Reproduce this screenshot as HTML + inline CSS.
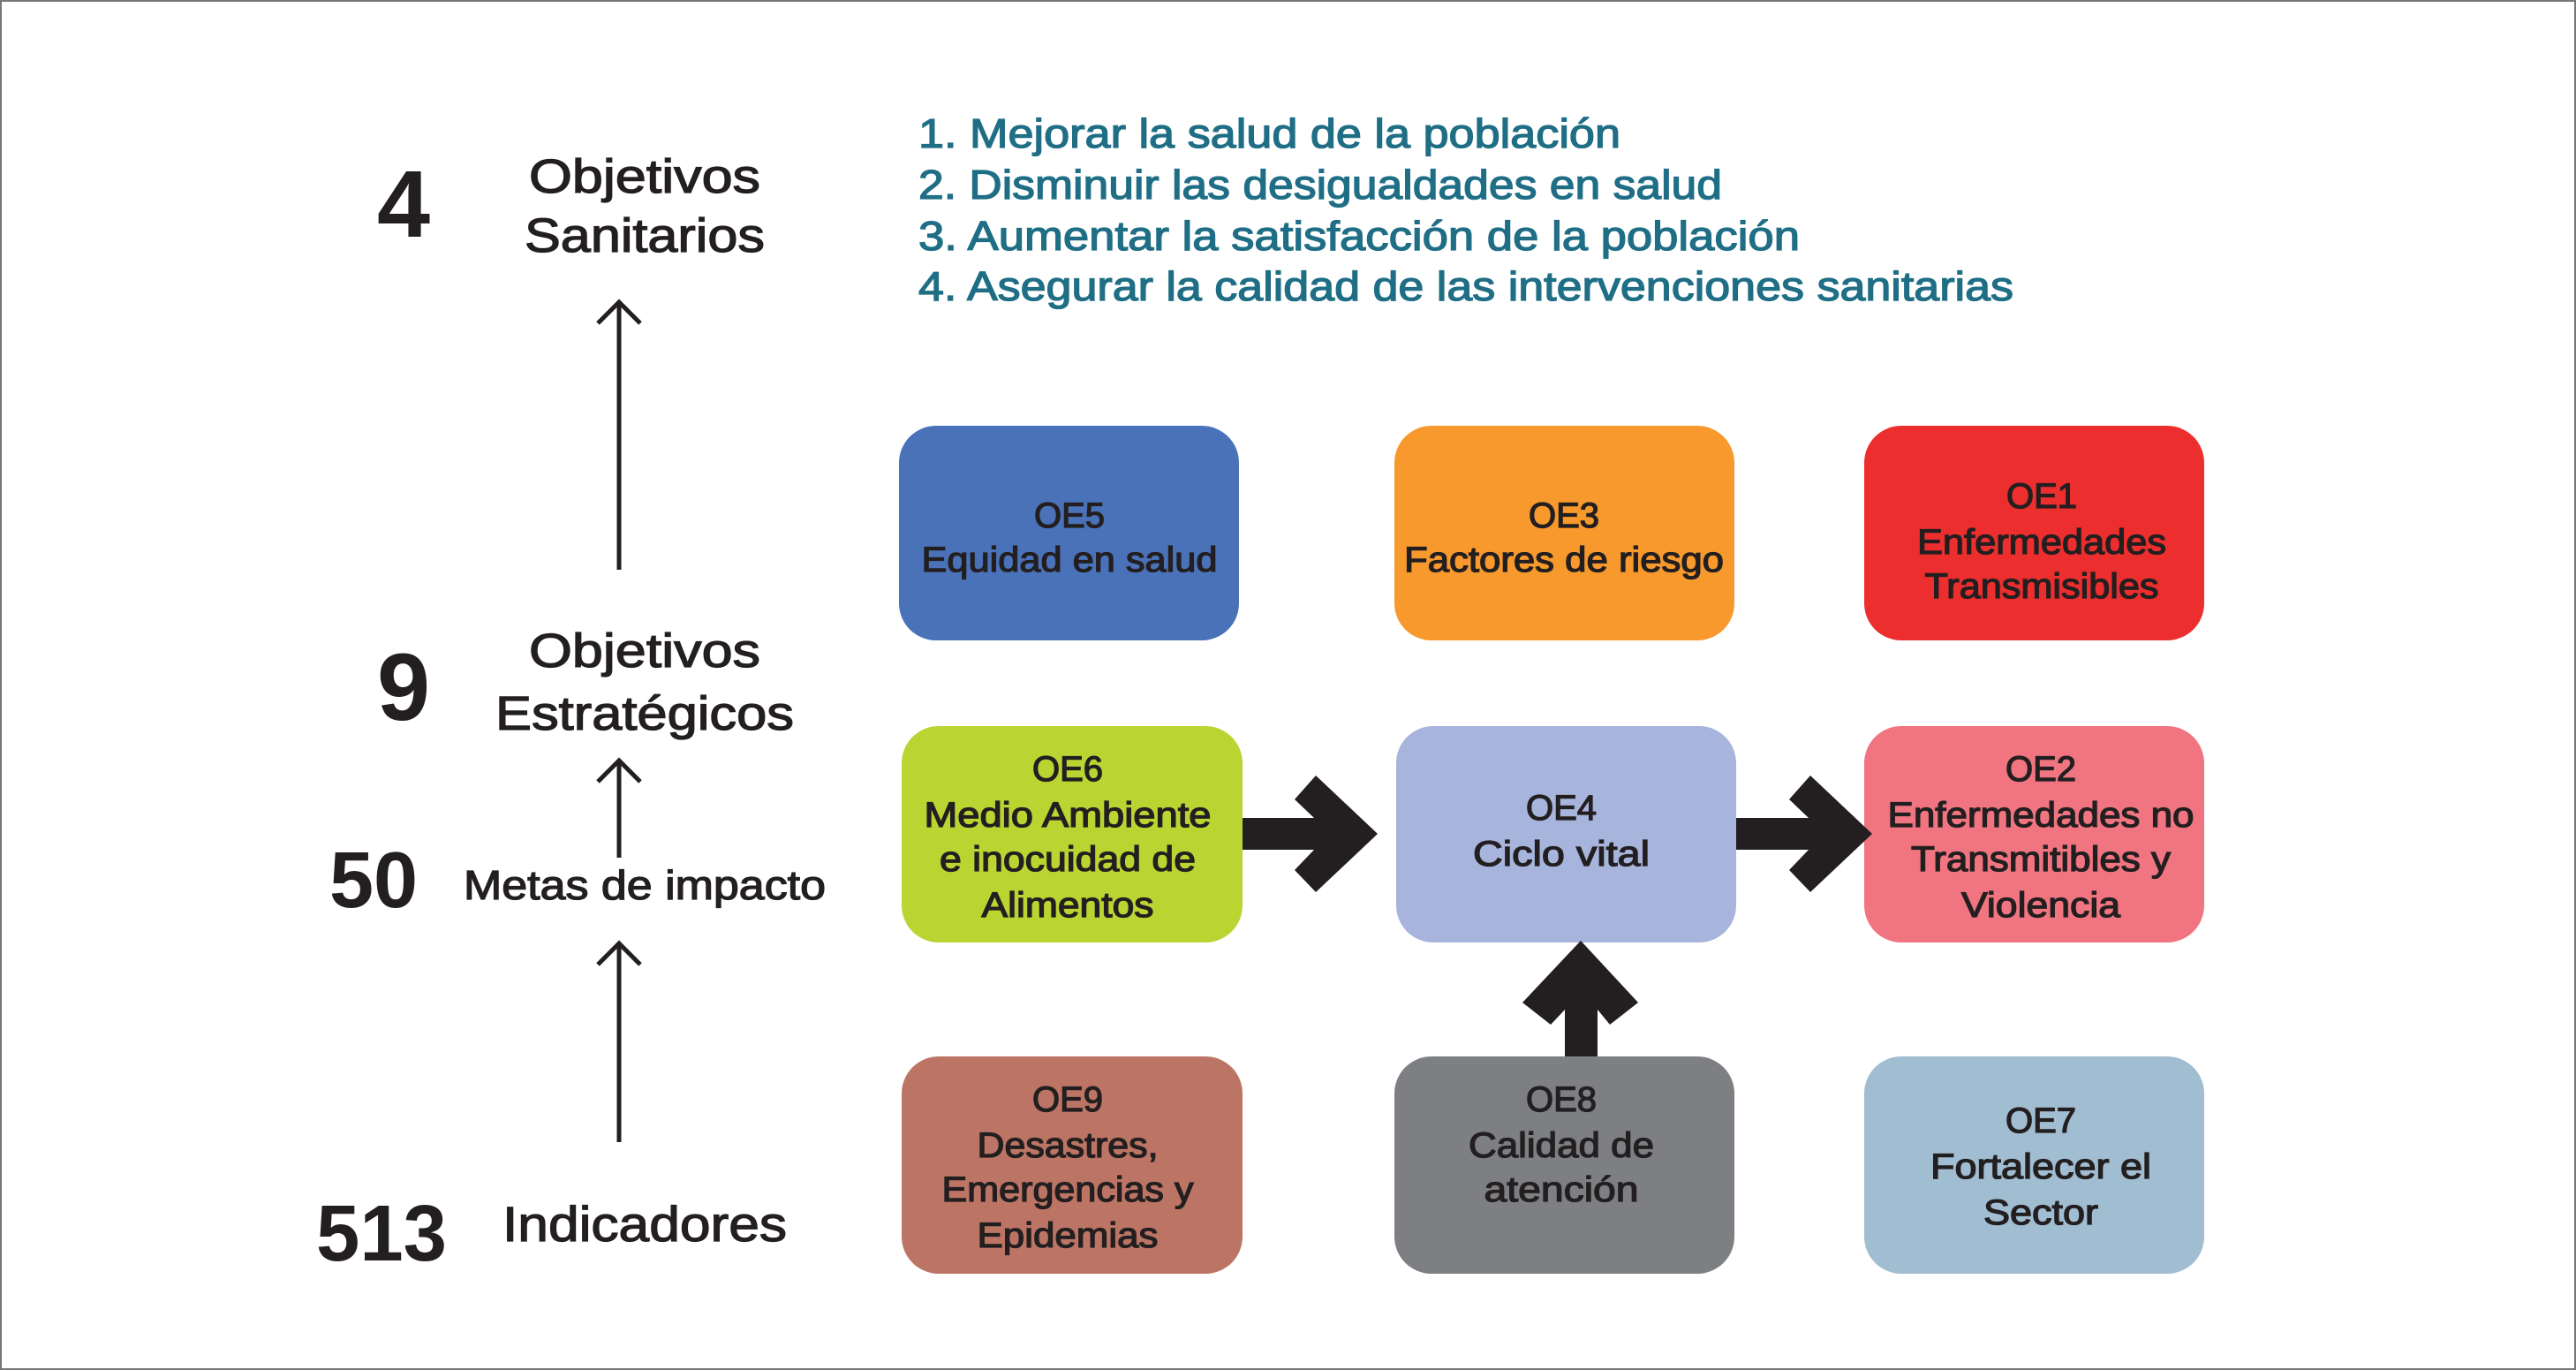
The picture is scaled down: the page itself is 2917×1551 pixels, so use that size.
<!DOCTYPE html>
<html><head><meta charset="utf-8"><style>
html,body{margin:0;padding:0;background:#fff}
svg{display:block}
text{font-family:"Liberation Sans",sans-serif;fill:#231f20;stroke:#231f20;stroke-width:1.3px}
.t{fill:#1f6e85;stroke:#1f6e85}
.b{font-weight:bold;stroke-width:0}
</style></head><body>
<svg width="2917" height="1551" viewBox="0 0 2917 1551" xmlns="http://www.w3.org/2000/svg">
<rect x="1" y="1" width="2915" height="1549" fill="#fff" stroke="#777" stroke-width="2"/>
<!-- teal list -->
<g font-size="46">
<text class="t" x="1040" y="167" textLength="795" lengthAdjust="spacingAndGlyphs">1. Mejorar la salud de la población</text>
<text class="t" x="1040" y="225" textLength="910" lengthAdjust="spacingAndGlyphs">2. Disminuir las desigualdades en salud</text>
<text class="t" x="1040" y="283" textLength="998" lengthAdjust="spacingAndGlyphs">3. Aumentar la satisfacción de la población</text>
<text class="t" x="1040" y="340" textLength="1240" lengthAdjust="spacingAndGlyphs">4. Asegurar la calidad de las intervenciones sanitarias</text>
</g>
<!-- left column -->
<g text-anchor="middle">
<text class="b" x="457" y="268" font-size="108">4</text>
<text x="730" y="218" font-size="54" textLength="262" lengthAdjust="spacingAndGlyphs">Objetivos</text>
<text x="730" y="285" font-size="54" textLength="272" lengthAdjust="spacingAndGlyphs">Sanitarios</text>
<text class="b" x="457" y="815" font-size="108">9</text>
<text x="730" y="755" font-size="54" textLength="262" lengthAdjust="spacingAndGlyphs">Objetivos</text>
<text x="730" y="826" font-size="54" textLength="338" lengthAdjust="spacingAndGlyphs">Estratégicos</text>
<text class="b" x="423" y="1027" font-size="90">50</text>
<text x="730" y="1018" font-size="46" textLength="410" lengthAdjust="spacingAndGlyphs">Metas de impacto</text>
<text class="b" x="432" y="1427" font-size="90" textLength="148" lengthAdjust="spacingAndGlyphs">513</text>
<text x="730" y="1405" font-size="56" textLength="322" lengthAdjust="spacingAndGlyphs">Indicadores</text>
</g>
<g stroke="#231f20" stroke-width="5" fill="none">
<line x1="701" y1="645" x2="701" y2="342"/><polyline points="677,366 701,342 725,366"/>
<line x1="701" y1="971" x2="701" y2="861"/><polyline points="677,885 701,861 725,885"/>
<line x1="701" y1="1293" x2="701" y2="1068"/><polyline points="677,1092 701,1068 725,1092"/>
</g>
<!-- boxes -->
<g>
<rect x="1018" y="482" width="385" height="243" rx="42" fill="#4a72b8"/>
<rect x="1579" y="482" width="385" height="243" rx="42" fill="#f7992c"/>
<rect x="2111" y="482" width="385" height="243" rx="42" fill="#ed2e2e"/>
<rect x="1021" y="822" width="386" height="245" rx="42" fill="#bad532"/>
<rect x="1581" y="822" width="385" height="245" rx="42" fill="#a7b4dc"/>
<rect x="2111" y="822" width="385" height="245" rx="42" fill="#f17580"/>
<rect x="1021" y="1196" width="386" height="246" rx="42" fill="#bc7565"/>
<rect x="1579" y="1196" width="385" height="246" rx="42" fill="#7e7f83"/>
<rect x="2111" y="1196" width="385" height="246" rx="42" fill="#a1bdd2"/>
</g>
<!-- thick arrows -->
<g fill="#231f20">
<polygon points="1407,926 1488,926 1466,905 1490,878 1560,944 1490,1010 1466,985 1488,962 1407,962"/>
<polygon points="1966,926 2048,926 2026,905 2050,878 2120,944 2050,1010 2026,985 2048,962 1966,962"/>
<polygon points="1772,1196 1772,1143 1756,1160 1724,1135 1790,1065 1855,1135 1823,1160 1809,1143 1809,1196"/>
</g>
<!-- box texts -->
<g text-anchor="middle" font-size="40">
<text x="1211" y="597">OE5</text>
<text x="1211" y="647" textLength="335" lengthAdjust="spacingAndGlyphs">Equidad en salud</text>
<text x="1771" y="597">OE3</text>
<text x="1771" y="647" textLength="362" lengthAdjust="spacingAndGlyphs">Factores de riesgo</text>
<text x="2312" y="575">OE1</text>
<text x="2312" y="627" textLength="282" lengthAdjust="spacingAndGlyphs">Enfermedades</text>
<text x="2312" y="677" textLength="265" lengthAdjust="spacingAndGlyphs">Transmisibles</text>
<text x="1209" y="884">OE6</text>
<text x="1209" y="936" textLength="325" lengthAdjust="spacingAndGlyphs">Medio Ambiente</text>
<text x="1209" y="986" textLength="290" lengthAdjust="spacingAndGlyphs">e inocuidad de</text>
<text x="1209" y="1038" textLength="195" lengthAdjust="spacingAndGlyphs">Alimentos</text>
<text x="1768" y="928">OE4</text>
<text x="1768" y="980" textLength="200" lengthAdjust="spacingAndGlyphs">Ciclo vital</text>
<text x="2311" y="884">OE2</text>
<text x="2311" y="936" textLength="347" lengthAdjust="spacingAndGlyphs">Enfermedades no</text>
<text x="2311" y="986" textLength="294" lengthAdjust="spacingAndGlyphs">Transmitibles y</text>
<text x="2311" y="1038" textLength="180" lengthAdjust="spacingAndGlyphs">Violencia</text>
<text x="1209" y="1258">OE9</text>
<text x="1209" y="1310" textLength="205" lengthAdjust="spacingAndGlyphs">Desastres,</text>
<text x="1209" y="1360" textLength="285" lengthAdjust="spacingAndGlyphs">Emergencias y</text>
<text x="1209" y="1412" textLength="205" lengthAdjust="spacingAndGlyphs">Epidemias</text>
<text x="1768" y="1258">OE8</text>
<text x="1768" y="1310" textLength="210" lengthAdjust="spacingAndGlyphs">Calidad de</text>
<text x="1768" y="1360" textLength="175" lengthAdjust="spacingAndGlyphs">atención</text>
<text x="2311" y="1282">OE7</text>
<text x="2311" y="1334" textLength="250" lengthAdjust="spacingAndGlyphs">Fortalecer el</text>
<text x="2311" y="1386" textLength="130" lengthAdjust="spacingAndGlyphs">Sector</text>
</g>
</svg>
</body></html>
